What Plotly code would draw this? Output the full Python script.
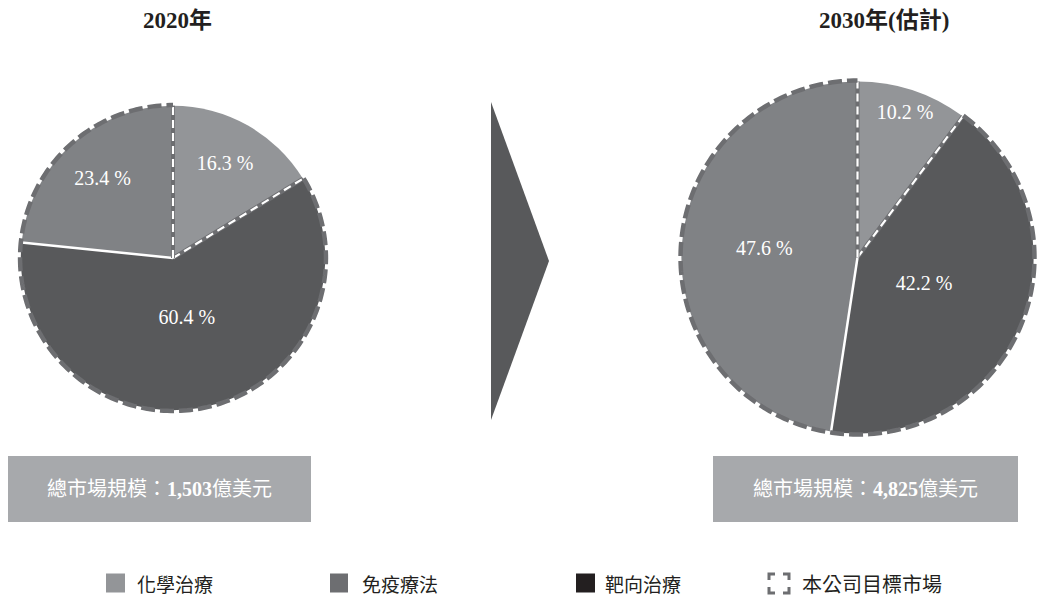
import numpy as np
import plotly.graph_objects as go

# ---------------- data ----------------
years = ["2020年", "2030年(估計)"]
categories = ["化學治療", "靶向治療", "免疫療法"]   # clockwise order from 12 o'clock
values_2020 = [16.3, 60.4, 23.4]
values_2030 = [10.2, 42.2, 47.6]
market_size = ["1,503", "4,825"]
target_market = ["靶向治療", "免疫療法"]
legend_labels = ["化學治療", "免疫療法", "靶向治療", "本公司目標市場"]

# ---------------- style ----------------
W, H = 1038, 602
slice_colors = {"化學治療": "#939598", "靶向治療": "#58595b", "免疫療法": "#808285"}
legend_colors = ["#939598", "#6d6e71", "#231f20"]
dash_gray = "#6d6e71"
box_color = "#a7a9ac"
serif = "Liberation Serif, Noto Sans CJK TC"
cjk = "Noto Sans CJK TC"
label_radius = [[0.70, 0.41, 0.69], [0.86, 0.41, 0.53]]
RMAX = 1.025

# pixel boxes (left, top, right, bottom) for the two pies
pie_px = [(17, 102, 329, 414), (677, 77, 1038, 438)]


def px_x(x):
    return x / W


def px_y(y):
    return 1 - y / H


fig = go.Figure()

for i, vals in enumerate([values_2020, values_2030]):
    pname = "polar" if i == 0 else "polar2"
    sub = pname
    total = sum(vals)
    spans = [360 * v / total for v in vals]
    starts = np.concatenate([[0], np.cumsum(spans)[:-1]])
    mids = starts + np.array(spans) / 2

    # wedges
    fig.add_trace(go.Barpolar(
        r=[1] * len(vals), theta=mids, width=spans,
        marker=dict(color=[slice_colors[c] for c in categories], line=dict(width=0)),
        subplot=sub, showlegend=False, hoverinfo="skip"))

    # solid white separator between targeted and immuno
    b = starts[2]
    fig.add_trace(go.Scatterpolar(
        r=[0, 1], theta=[b, b], mode="lines",
        line=dict(color="white", width=2.5), subplot=sub,
        showlegend=False, hoverinfo="skip"))

    # target market outline: radial edges (gray + white dashes)
    t1 = starts[1]
    for th in [t1, 360]:
        fig.add_trace(go.Scatterpolar(
            r=[0, 1], theta=[th, th], mode="lines",
            line=dict(color=dash_gray, width=4), subplot=sub,
            showlegend=False, hoverinfo="skip"))
        fig.add_trace(go.Scatterpolar(
            r=[0, 1], theta=[th, th], mode="lines",
            line=dict(color="white", width=2.2, dash="8px,5px"), subplot=sub,
            showlegend=False, hoverinfo="skip"))

    # outer dashed arc
    arc_t = np.linspace(t1, 360, 240)
    fig.add_trace(go.Scatterpolar(
        r=np.full_like(arc_t, 1.005), theta=arc_t, mode="lines",
        line=dict(color=dash_gray, width=4.5, dash="14px,5px"), subplot=sub,
        showlegend=False, hoverinfo="skip"))

    # percentage labels
    fig.add_trace(go.Scatterpolar(
        r=label_radius[i], theta=mids, mode="text",
        text=[f"{v:.1f} %" for v in vals],
        textfont=dict(family=serif, size=20, color="white"),
        textposition="middle center", subplot=sub,
        showlegend=False, hoverinfo="skip", cliponaxis=False))

    l, t, r_, bt = pie_px[i]
    polar_cfg = dict(
        domain=dict(x=[px_x(l), px_x(r_)], y=[px_y(bt), px_y(t)]),
        bgcolor="rgba(0,0,0,0)",
        radialaxis=dict(visible=False, range=[0, RMAX]),
        angularaxis=dict(visible=False, rotation=90, direction="clockwise"),
    )
    fig.update_layout(**{pname: polar_cfg})

# ---------------- titles ----------------
title_x = [177, 884]
for i, y in enumerate(years):
    fig.add_annotation(x=px_x(title_x[i]), y=px_y(21), xref="paper", yref="paper",
                       xanchor="center", yanchor="middle",
                       text=f"<b>{y}</b>", showarrow=False,
                       font=dict(family=serif, size=23, color="#231f20"))

# ---------------- market size boxes ----------------
boxes = [(8, 456, 311, 522), (713, 456, 1018, 522)]
for i, (l, t, r_, bt) in enumerate(boxes):
    fig.add_shape(type="rect", xref="paper", yref="paper",
                  x0=px_x(l), x1=px_x(r_), y0=px_y(bt), y1=px_y(t),
                  fillcolor=box_color, line=dict(width=0), layer="below")
    fig.add_annotation(x=px_x((l + r_) / 2), y=px_y((t + bt) / 2), xref="paper", yref="paper",
                       xanchor="center", yanchor="middle",
                       text=f"總市場規模：<b>{market_size[i]}</b>億美元", showarrow=False,
                       font=dict(family=serif, size=20, color="white"))

# ---------------- arrow ----------------
ax0, ay0, ay1, apx, apy = 491, 102, 420, 549, 261
fig.add_shape(type="path", xref="paper", yref="paper",
              path=f"M {px_x(ax0)} {px_y(ay0)} L {px_x(apx)} {px_y(apy)} L {px_x(ax0)} {px_y(ay1)} Z",
              fillcolor="#58595b", line=dict(width=0))

# ---------------- legend ----------------
leg_y = 583
sq = [(106, 125), (330, 348), (576, 595)]
txt_x = [135, 360, 603, 800]
for i in range(3):
    x0, x1 = sq[i]
    fig.add_shape(type="rect", xref="paper", yref="paper",
                  x0=px_x(x0), x1=px_x(x1), y0=px_y(leg_y + 9.5), y1=px_y(leg_y - 9.5),
                  fillcolor=legend_colors[i], line=dict(width=0))
# dashed-corner icon
ix0, ix1, iy0, iy1, arm = 769, 789, 574, 593, 6
corners = [
    [(ix0, iy0 + arm), (ix0, iy0), (ix0 + arm, iy0)],
    [(ix1 - arm, iy0), (ix1, iy0), (ix1, iy0 + arm)],
    [(ix0, iy1 - arm), (ix0, iy1), (ix0 + arm, iy1)],
    [(ix1 - arm, iy1), (ix1, iy1), (ix1, iy1 - arm)],
]
for c in corners:
    p = "M " + " L ".join(f"{px_x(x)} {px_y(y)}" for x, y in c)
    fig.add_shape(type="path", xref="paper", yref="paper", path=p,
                  line=dict(color=dash_gray, width=3))
legend_sizes = [19, 19, 19, 20]
for i, lab in enumerate(legend_labels):
    fig.add_annotation(x=px_x(txt_x[i]), y=px_y(leg_y), xref="paper", yref="paper",
                       xanchor="left", yanchor="middle", text=lab, showarrow=False,
                       font=dict(family=cjk, size=legend_sizes[i], color="#231f20"))

fig.update_layout(width=W, height=H, margin=dict(l=0, r=0, t=0, b=0),
                  paper_bgcolor="white", plot_bgcolor="white", showlegend=False)

fig.write_html("out.html", config={"displayModeBar": False},
               post_script="document.body.style.margin='0';")
